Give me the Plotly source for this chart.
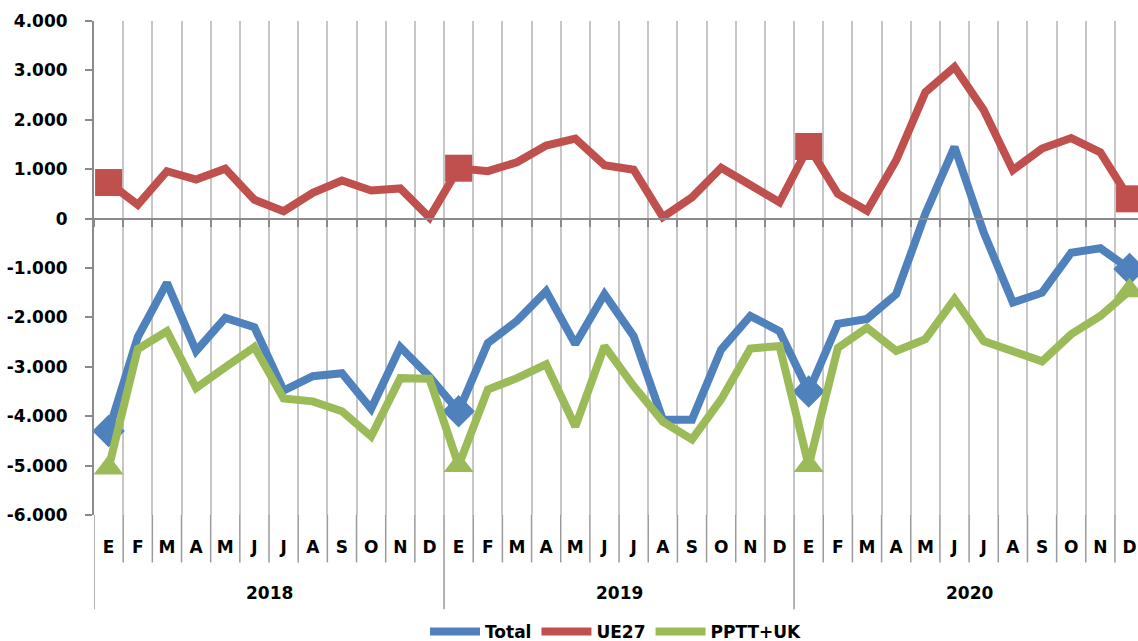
import plotly.graph_objects as go

# Data (monthly values, Jan 2018 - Dec 2020)
years = ["2018", "2019", "2020"]
months = ["E", "F", "M", "A", "M", "J", "J", "A", "S", "O", "N", "D"]

total = [-4300, -2400, -1300, -2680, -2010, -2200, -3480, -3190, -3130, -3850, -2600, -3200,
         -3900, -2520, -2070, -1470, -2540, -1530, -2380, -4070, -4070, -2650, -1970, -2280,
         -3500, -2130, -2030, -1530, 100, 1450, -280, -1700, -1500, -690, -600, -1020]
ue27 = [730, 280, 960, 790, 1010, 380, 150, 520, 770, 570, 610, 20,
        1020, 960, 1140, 1480, 1620, 1080, 990, 30, 430, 1030, 680, 330,
        1460, 500, 160, 1180, 2560, 3070, 2200, 980, 1420, 1630, 1340, 400]
pptt_uk = [-5050, -2640, -2280, -3430, -3010, -2600, -3640, -3700, -3900, -4410, -3230, -3240,
           -5000, -3460, -3230, -2950, -4210, -2580, -3390, -4110, -4470, -3660, -2630, -2580,
           -5000, -2620, -2210, -2680, -2440, -1630, -2480, -2680, -2890, -2340, -1970, -1460]

y_ticks = [4000, 3000, 2000, 1000, 0, -1000, -2000, -3000, -4000, -5000, -6000]
y_tick_labels = ["4.000", "3.000", "2.000", "1.000", "0", "-1.000", "-2.000",
                 "-3.000", "-4.000", "-5.000", "-6.000"]

month_labels = months * len(years)
n = len(month_labels)
x = list(range(n))
# markers on the first month of each year and on the last point
marked = [0, 12, 24, n - 1]

series = [
    ("Total", total, "#4F81BD", "diamond", 25),
    ("UE27", ue27, "#C0504D", "square", 27),
    ("PPTT+UK", pptt_uk, "#9BBB59", "triangle-up", 26),
]

fig = go.Figure()
for name, vals, color, sym, size in series:
    fig.add_trace(go.Scatter(
        x=x, y=vals, name=name, mode="lines",
        line=dict(color=color, width=8),
    ))
    fig.add_trace(go.Scatter(
        x=[x[i] for i in marked], y=[vals[i] for i in marked],
        mode="markers", showlegend=False, hoverinfo="skip",
        marker=dict(symbol=sym, size=size, color=color, line=dict(width=0)),
        cliponaxis=False,
    ))

boundaries = [i - 0.5 for i in range(n + 1)]
x_range = [-0.5, 35.29]

# year labels and category dividers below the plot
for k, yr in enumerate(years):
    fig.add_annotation(x=k * 12 + 5.5, y=-0.157, xref="x", yref="paper",
                       text=yr, showarrow=False, yanchor="middle",
                       font=dict(size=17, color="black", family="DejaVu Sans", weight="bold"))
for i, b in enumerate(boundaries):
    bottom = -0.191 if i % 12 == 0 else -0.096
    fig.add_shape(type="line", xref="x", yref="paper", x0=b, x1=b, y0=0, y1=bottom,
                  line=dict(color="#9a9a9a", width=1.5))

# the capture squeezes the page slightly in height, so the figure is a bit taller
fig.update_layout(
    width=1138, height=650,
    margin=dict(l=94, r=0, t=21, b=130),
    paper_bgcolor="white", plot_bgcolor="white",
    font=dict(family="DejaVu Sans", size=17, color="black", weight="bold"),
    showlegend=True,
    legend=dict(orientation="h", x=0.5, xanchor="center", y=-0.238, yanchor="middle",
                font=dict(size=17, family="DejaVu Sans", weight="bold"),
                itemwidth=50, tracegroupgap=0),
    xaxis=dict(
        range=x_range, tickvals=boundaries, showticklabels=False,
        showgrid=True, gridcolor="#c6c6c6", gridwidth=2,
        showline=True, linecolor="#8a8a8a", linewidth=2,
        ticks="outside", ticklen=7, tickcolor="#8a8a8a", tickwidth=2,
        anchor="free", position=0.6, zeroline=False, automargin=False,
    ),
    xaxis2=dict(
        range=x_range, overlaying="x", anchor="y", side="bottom",
        tickvals=x, ticktext=month_labels, showgrid=False, showline=False,
        zeroline=False, ticks="", ticklabelstandoff=20, automargin=False,
        tickfont=dict(size=17, family="DejaVu Sans", weight="bold"),
    ),
    yaxis=dict(
        range=[-6000, 4000], tickvals=y_ticks, ticktext=y_tick_labels,
        showgrid=False, zeroline=False, automargin=False,
        showline=True, linecolor="#8a8a8a", linewidth=2,
        ticks="outside", ticklen=7, tickcolor="#8a8a8a", tickwidth=2,
        ticklabelstandoff=14,
        tickfont=dict(size=17, family="DejaVu Sans", weight="bold"),
    ),
)

# dummy trace so that xaxis2 is drawn
fig.add_trace(go.Scatter(x=[0], y=[None], xaxis="x2", showlegend=False, hoverinfo="skip"))

# drop the default page margin so the figure starts at the window corner
page_css = (
    "document.body.style.margin='0';"
    "document.body.style.overflow='hidden';"
    "document.documentElement.style.overflow='hidden';"
)
fig.write_html("out.html", post_script=page_css, config={"displayModeBar": False})
